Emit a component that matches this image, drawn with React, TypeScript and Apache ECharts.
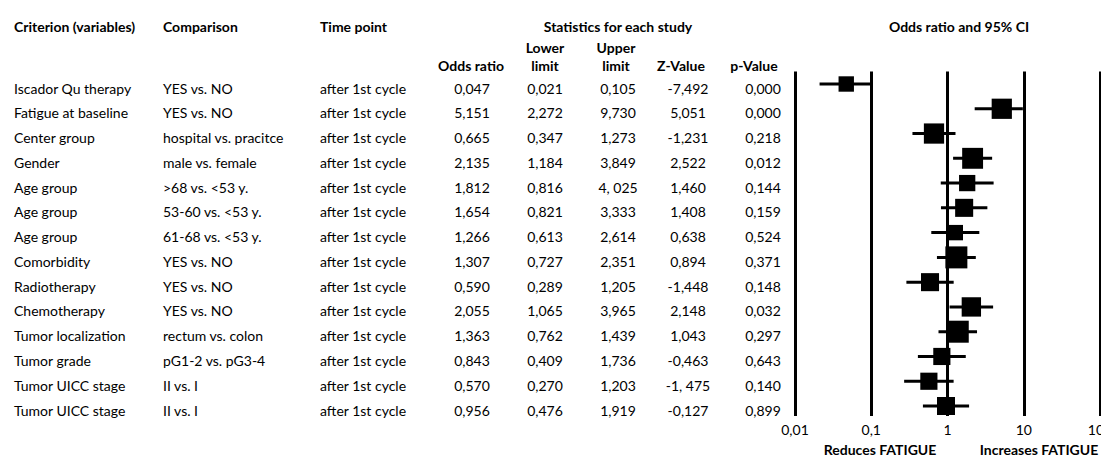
import React, { useEffect, useRef } from "react";
import * as echarts from "echarts";

// ---------- data ----------
const criteria = [
  "Iscador Qu therapy",
  "Fatigue at baseline",
  "Center group",
  "Gender",
  "Age group",
  "Age group",
  "Age group",
  "Comorbidity",
  "Radiotherapy",
  "Chemotherapy",
  "Tumor localization",
  "Tumor grade",
  "Tumor UICC stage",
  "Tumor UICC stage",
];
const comparisons = [
  "YES vs. NO",
  "YES vs. NO",
  "hospital vs. pracitce",
  "male vs. female",
  ">68 vs. <53 y.",
  "53-60 vs. <53 y.",
  "61-68 vs. <53 y.",
  "YES vs. NO",
  "YES vs. NO",
  "YES vs. NO",
  "rectum vs. colon",
  "pG1-2 vs. pG3-4",
  "II vs. I",
  "II vs. I",
];
const timePoints = [
  "after 1st cycle", "after 1st cycle", "after 1st cycle", "after 1st cycle",
  "after 1st cycle", "after 1st cycle", "after 1st cycle", "after 1st cycle",
  "after 1st cycle", "after 1st cycle", "after 1st cycle", "after 1st cycle",
  "after 1st cycle", "after 1st cycle",
];
// table texts as printed
const oddsRatioText = ["0,047", "5,151", "0,665", "2,135", "1,812", "1,654", "1,266", "1,307", "0,590", "2,055", "1,363", "0,843", "0,570", "0,956"];
const lowerLimitText = ["0,021", "2,272", "0,347", "1,184", "0,816", "0,821", "0,613", "0,727", "0,289", "1,065", "0,762", "0,409", "0,270", "0,476"];
const upperLimitText = ["0,105", "9,730", "1,273", "3,849", "4, 025", "3,333", "2,614", "2,351", "1,205", "3,965", "1,439", "1,736", "1,203", "1,919"];
const zValueText = ["-7,492", "5,051", "-1,231", "2,522", "1,460", "1,408", "0,638", "0,894", "-1,448", "2,148", "1,043", "-0,463", "-1, 475", "-0,127"];
const pValueText = ["0,000", "0,000", "0,218", "0,012", "0,144", "0,159", "0,524", "0,371", "0,148", "0,032", "0,297", "0,643", "0,140", "0,899"];

// values as plotted in the forest plot
const oddsRatio = [0.047, 5.151, 0.665, 2.135, 1.812, 1.654, 1.266, 1.307, 0.59, 2.055, 1.363, 0.843, 0.57, 0.956];
const lowerLimit = [0.021, 2.272, 0.347, 1.184, 0.816, 0.821, 0.613, 0.727, 0.289, 1.065, 0.762, 0.409, 0.27, 0.476];
const upperLimit = [0.105, 9.73, 1.273, 3.849, 4.025, 3.333, 2.614, 2.351, 1.205, 3.965, 2.439, 1.736, 1.203, 1.919];
// relative study weight (largest = 1)
const relativeWeight = [0.7, 0.92, 0.92, 0.95, 0.74, 0.82, 0.7, 1.0, 0.82, 0.88, 1.0, 0.78, 0.78, 0.82];

const xTicks = [0.01, 0.1, 1, 10, 100];

// ---------- layout / style ----------
const FONT = "Lato, 'Open Sans', sans-serif";
const FS = 14;
const TXT = "#000";
const ROW0 = 84;
const ROW_STEP = 24.77;
const Y_MIN = -0.5;
const Y_MAX = 13.4;
const PLOT_LEFT = 795;
const PLOT_WIDTH = 305;
const MAX_BOX = 22;
const TEXT_SHIFT = 4;

const columns = [
  { x: 14, align: "left", src: criteria },
  { x: 163, align: "left", src: comparisons },
  { x: 320, align: "left", src: timePoints },
  { x: 472, align: "center", src: oddsRatioText },
  { x: 545, align: "center", src: lowerLimitText },
  { x: 618, align: "center", src: upperLimitText },
  { x: 688, align: "center", src: zValueText },
  { x: 763, align: "center", src: pValueText },
];

const headers = [
  { t: "Criterion (variables)", x: 14, y: 26, a: "left" },
  { t: "Comparison", x: 163, y: 26, a: "left" },
  { t: "Time point", x: 320, y: 26, a: "left" },
  { t: "Statistics for each study", x: 618, y: 26, a: "center" },
  { t: "Lower", x: 545, y: 47, a: "center" },
  { t: "Upper", x: 616, y: 47, a: "center" },
  { t: "Odds ratio", x: 471, y: 65, a: "center" },
  { t: "limit", x: 545, y: 65, a: "center" },
  { t: "limit", x: 616, y: 65, a: "center" },
  { t: "Z-Value", x: 681, y: 65, a: "center" },
  { t: "p-Value", x: 754, y: 65, a: "center" },
  { t: "Odds ratio and 95% CI", x: 959, y: 26, a: "center" },
  { t: "Reduces FATIGUE", x: 880, y: 449, a: "center" },
  { t: "Increases FATIGUE", x: 1039, y: 449, a: "center" },
];

export default function App() {
  const ref = useRef<HTMLDivElement>(null);
  useEffect(() => {
    if (!ref.current) return;
    const chart = echarts.init(ref.current, undefined, { renderer: "svg" });
    const top = ROW0 + Y_MIN * ROW_STEP;
    const height = (Y_MAX - Y_MIN) * ROW_STEP;

    const cells: { x: number; row: number; text: string; align: string }[] = [];
    columns.forEach((c) => {
      c.src.forEach((text, row) => cells.push({ x: c.x, row, text, align: c.align }));
    });

    const forestData = oddsRatio.map((v, i) => [v, lowerLimit[i], upperLimit[i], i, relativeWeight[i]]);

    chart.setOption({
      animation: false,
      grid: [
        { left: PLOT_LEFT, width: PLOT_WIDTH, top, height, outerBoundsMode: "none", containLabel: false },
        { left: 0, width: 790, top: top + TEXT_SHIFT, height, outerBoundsMode: "none", containLabel: false },
      ],
      xAxis: [
        {
          gridIndex: 0,
          type: "log",
          logBase: 10,
          min: xTicks[0],
          max: xTicks[xTicks.length - 1],
          axisLine: { show: false },
          axisTick: { show: false },
          axisLabel: {
            color: TXT,
            fontFamily: FONT,
            fontSize: FS,
            margin: 7,
            hideOverlap: false,
            formatter: (v: number) => String(v).replace(".", ","),
          },
          splitLine: { show: true, showMinLine: true, showMaxLine: true, lineStyle: { color: "#000", width: 3 } },
        },
        { gridIndex: 1, type: "value", min: 0, max: 790, show: false },
      ],
      yAxis: [
        { gridIndex: 0, type: "value", inverse: true, min: Y_MIN, max: Y_MAX, show: false },
        { gridIndex: 1, type: "value", inverse: true, min: Y_MIN, max: Y_MAX, show: false },
      ],
      series: [
        {
          type: "custom",
          xAxisIndex: 0,
          yAxisIndex: 0,
          clip: false,
          encode: { x: [0, 1, 2], y: 3 },
          data: forestData,
          renderItem: (params: any, api: any) => {
            const row = api.value(3);
            const c = api.coord([api.value(0), row]);
            const lo = api.coord([api.value(1), row]);
            const hi = api.coord([api.value(2), row]);
            const s = MAX_BOX * api.value(4);
            return {
              type: "group",
              children: [
                {
                  type: "line",
                  shape: { x1: lo[0], y1: c[1], x2: hi[0], y2: c[1] },
                  style: { stroke: "#000", lineWidth: 3 },
                },
                {
                  type: "rect",
                  shape: { x: c[0] - s / 2, y: c[1] - s / 2, width: s, height: s },
                  style: { fill: "#000" },
                },
              ],
            };
          },
        },
        {
          type: "custom",
          xAxisIndex: 1,
          yAxisIndex: 1,
          clip: false,
          encode: { x: 0, y: 1 },
          data: cells.map((c) => [c.x, c.row]),
          renderItem: (params: any, api: any) => {
            const cell = cells[params.dataIndex];
            const p = api.coord([cell.x, cell.row]);
            return {
              type: "text",
              x: p[0],
              y: p[1],
              style: {
                text: cell.text,
                font: `${FS}px ${FONT}`,
                fill: TXT,
                textAlign: cell.align,
                textVerticalAlign: "middle",
                align: cell.align,
                verticalAlign: "middle",
              },
            };
          },
        },
      ],
      graphic: headers.map((h) => ({
        type: "text",
        x: h.x,
        y: h.y,
        style: {
          text: h.t,
          font: `bold ${FS}px ${FONT}`,
          fill: TXT,
          textAlign: h.a,
          textVerticalAlign: "middle",
        },
      })),
    });
    return () => chart.dispose();
  }, []);
  return (
    <div
      ref={ref}
      style={{ position: "fixed", left: 0, top: 0, width: 1101, height: 456, background: "#fff" }}
    />
  );
}
